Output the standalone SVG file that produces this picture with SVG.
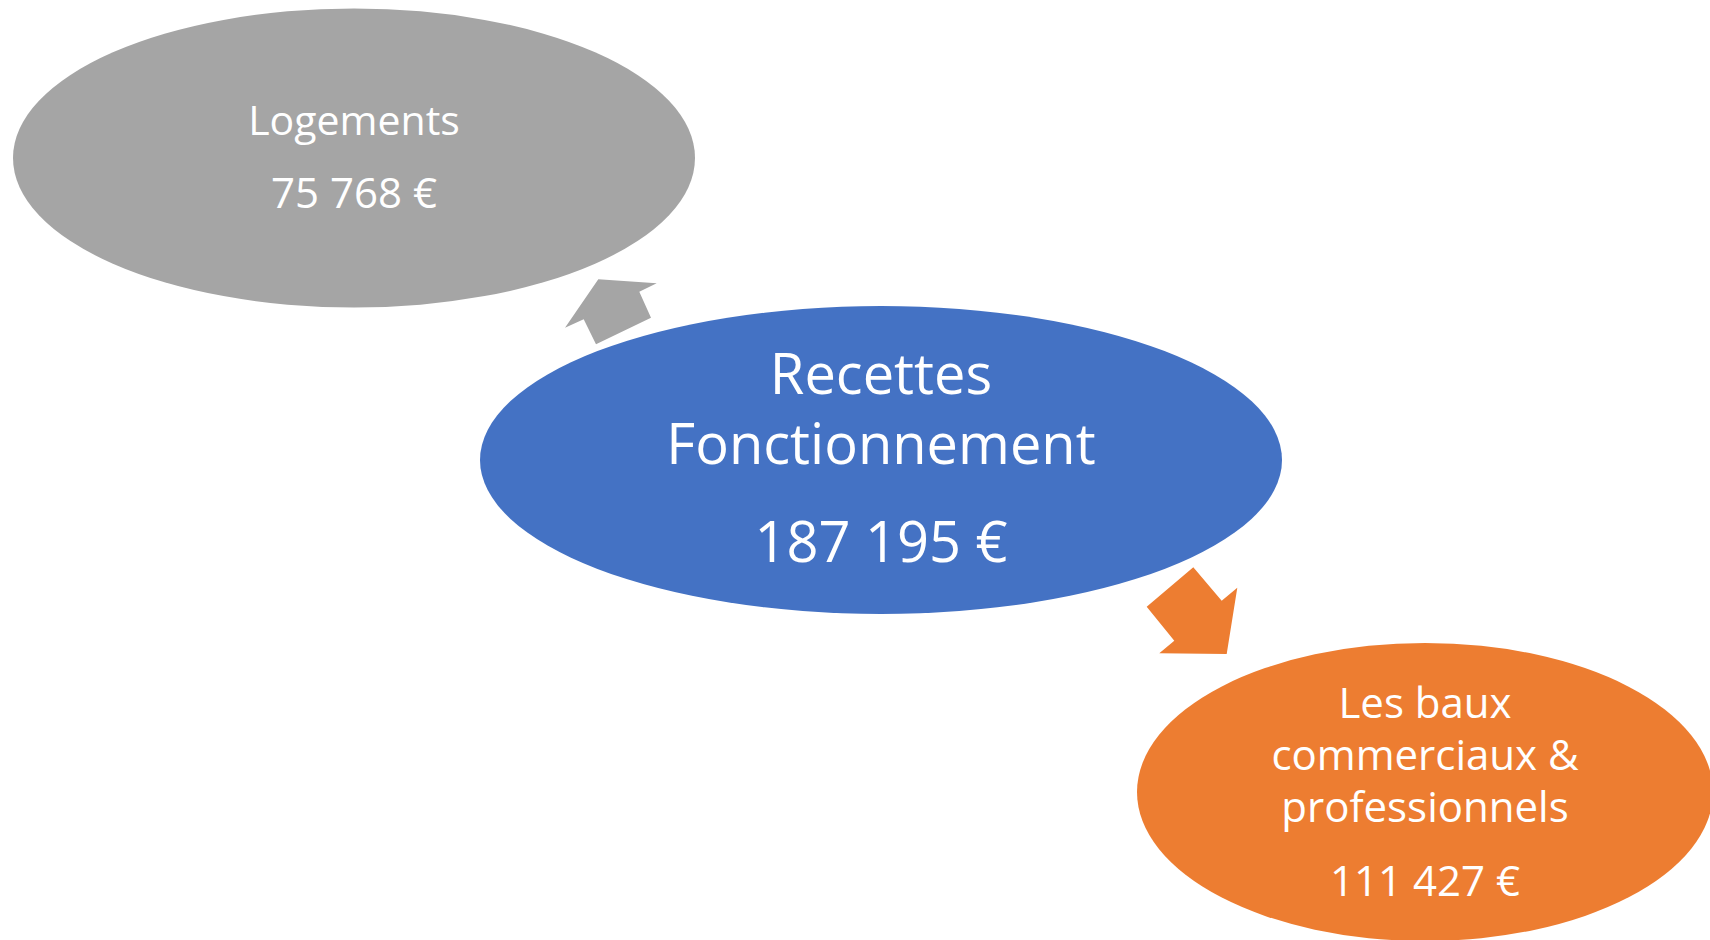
<svg xmlns="http://www.w3.org/2000/svg" width="1710" height="940" viewBox="0 0 1710 940">
  <style>
    .lbl { font-family: "Open Sans", "Liberation Sans", sans-serif; fill: #FFFFFF; text-anchor: middle; }
    .gray { fill: #A5A5A5; }
    .blue { fill: #4472C4; }
    .orange { fill: #ED7D31; }
  </style>
  <rect width="1710" height="940" fill="#FFFFFF"/>

  <!-- connectors: block arrows from the centre node -->
  <g id="connectors">
    <polygon class="gray" points="598.3,279.3 656.7,283.3 639.3,291.7 651,317.7 596,344.3 583.7,319.3 565,327.7"/>
    <polygon class="orange" points="1193.3,567.3 1221.7,600.7 1237.3,587.7 1226.7,654 1159.3,653.3 1174.3,640.7 1146.7,606.7"/>
  </g>

  <g id="node-logements">
    <ellipse class="gray" cx="354" cy="158" rx="341" ry="149.5"/>
    <text class="lbl" x="354" y="135" font-size="41">Logements</text>
    <text class="lbl" x="354" y="208" font-size="42">75 768 €</text>
  </g>

  <g id="node-recettes">
    <ellipse class="blue" cx="881" cy="460" rx="401" ry="154"/>
    <text class="lbl" x="881" y="394" font-size="56">Recettes</text>
    <text class="lbl" x="881" y="464" font-size="56">Fonctionnement</text>
    <text class="lbl" x="881" y="562" font-size="56">187 195 €</text>
  </g>

  <g id="node-baux">
    <ellipse class="orange" cx="1425" cy="792" rx="288" ry="149"/>
    <text class="lbl" x="1425" y="718" font-size="42">Les baux</text>
    <text class="lbl" x="1425" y="770" font-size="42">commerciaux &amp;</text>
    <text class="lbl" x="1425" y="822" font-size="42">professionnels</text>
    <text class="lbl" x="1425" y="896" font-size="42">111 427 €</text>
  </g>
</svg>
